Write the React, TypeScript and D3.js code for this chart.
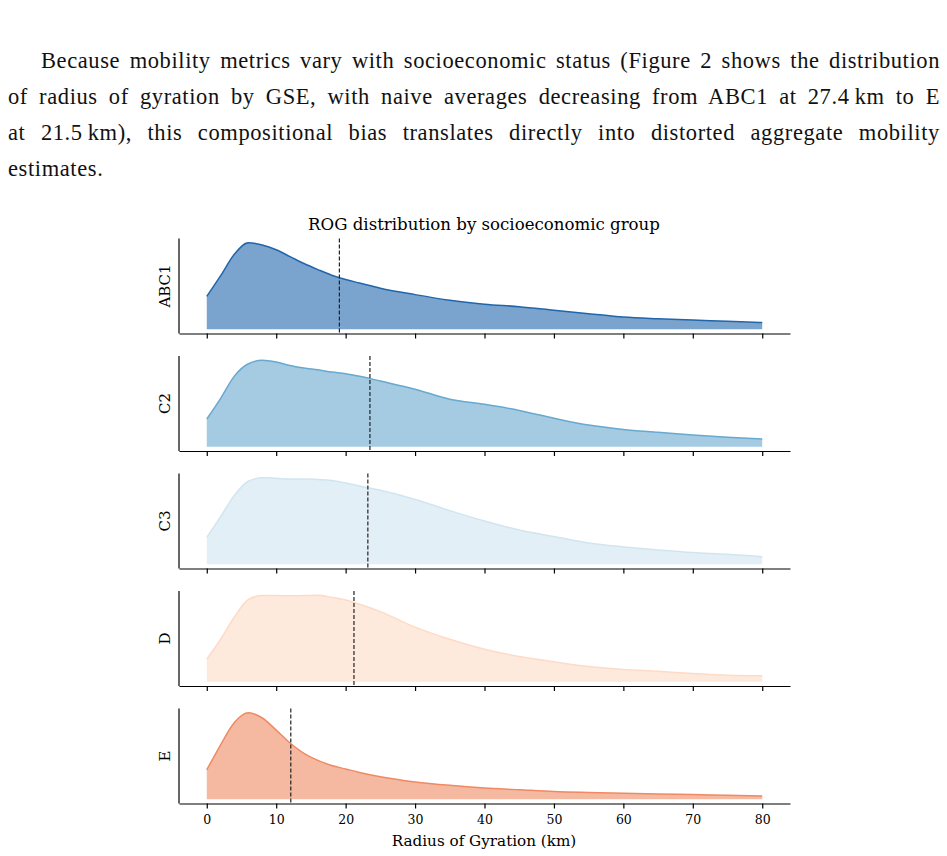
import * as d3 from "d3";
import {useEffect, useRef} from "react";

// radius of gyration grid (km) and relative density per group (peak = 1)
const km = [0, 2, 4, 6, 8, 10, 12, 14, 16, 18, 20, 22, 25, 30, 35, 40, 45, 50, 55, 60, 65, 70, 75, 80];

const groups = ["ABC1", "C2", "C3", "D", "E"];

const abc1 = [0.38, 0.62, 0.87, 1.0, 0.975, 0.92, 0.84, 0.76, 0.69, 0.625, 0.575, 0.535, 0.475, 0.40, 0.335, 0.29, 0.26, 0.22, 0.18, 0.14, 0.12, 0.105, 0.092, 0.077];
const c2 = [0.32, 0.56, 0.82, 0.96, 1.0, 0.98, 0.94, 0.91, 0.89, 0.865, 0.845, 0.815, 0.76, 0.665, 0.55, 0.49, 0.42, 0.33, 0.25, 0.2, 0.167, 0.135, 0.11, 0.09];
const c3 = [0.31, 0.55, 0.80, 0.96, 1.0, 0.995, 0.985, 0.985, 0.98, 0.97, 0.94, 0.905, 0.855, 0.75, 0.62, 0.50, 0.395, 0.32, 0.245, 0.2, 0.165, 0.135, 0.115, 0.087];
const d = [0.26, 0.49, 0.75, 0.95, 0.995, 0.995, 0.993, 0.995, 0.998, 0.975, 0.945, 0.895, 0.81, 0.63, 0.49, 0.375, 0.29, 0.23, 0.175, 0.14, 0.12, 0.095, 0.075, 0.068];
const e = [0.34, 0.63, 0.89, 1.0, 0.94, 0.80, 0.65, 0.53, 0.45, 0.39, 0.35, 0.31, 0.26, 0.2, 0.16, 0.13, 0.11, 0.09, 0.078, 0.068, 0.06, 0.053, 0.045, 0.038];

const series = [abc1, c2, c3, d, e];

// group means (dashed lines)
const means = [19.1, 23.5, 23.2, 21.2, 12.1];

const colors = ["#2166ac", "#67a9cf", "#d1e5f0", "#fddbc7", "#ef8a62"];

const xTicks = [0, 10, 20, 30, 40, 50, 60, 70, 80];

const paragraph = [
    "Because mobility metrics vary with socioeconomic status (Figure 2 shows the distribution",
    "of radius of gyration by GSE, with naive averages decreasing from ABC1 at 27.4\u2009km to E",
    "at 21.5\u2009km), this compositional bias translates directly into distorted aggregate mobility",
    "estimates.",
];

const App = () => {
    const ref = useRef<SVGSVGElement>(null);

    useEffect(() => {
        const svg = d3.select(ref.current);
        svg.selectAll("*").remove();

        // paragraph text, justified line by line
        const lineStarts = [41, 8, 8, 8];
        const baselines = [68, 104, 140, 176];
        const right = 940;
        paragraph.forEach((line, i) => {
            const t = svg.append("text")
                .attr("x", lineStarts[i])
                .attr("y", baselines[i])
                .attr("font-family", "Liberation Serif")
                .attr("font-size", 22.5)
                .attr("letter-spacing", 0.6)
                .attr("fill", "#111")
                .text(line);
            if (i < paragraph.length - 1) {
                const len = (t.node() as SVGTextElement).getBBox().width;
                const spaces = line.split(" ").length - 1;
                t.attr("word-spacing", (right - lineStarts[i] - len) / spaces);
            }
        });

        const font = "DejaVu Serif";
        const x = d3.scaleLinear().domain([-4, 84]).range([179, 790]);

        svg.append("text")
            .attr("x", 484)
            .attr("y", 230)
            .attr("text-anchor", "middle")
            .attr("font-family", font)
            .attr("font-size", 16.6)
            .text("ROG distribution by socioeconomic group");

        groups.forEach((g, i) => {
            const top = 238.5 + i * 117.5;
            const bottom = top + 95;
            const vals = series[i];
            const ymax = d3.max(vals) as number;
            const y = d3.scaleLinear().domain([-0.05 * ymax, 1.05 * ymax]).range([bottom, top]);
            const pts = km.map((k, j) => ({k, v: vals[j]}));

            const area = d3.area<{k: number, v: number}>()
                .x(p => x(p.k))
                .y0(y(0))
                .y1(p => y(p.v))
                .curve(d3.curveMonotoneX);
            const line = d3.line<{k: number, v: number}>()
                .x(p => x(p.k))
                .y(p => y(p.v))
                .curve(d3.curveMonotoneX);

            svg.append("path")
                .attr("d", area(pts))
                .attr("fill", colors[i])
                .attr("fill-opacity", 0.6);
            svg.append("path")
                .attr("d", line(pts))
                .attr("fill", "none")
                .attr("stroke", colors[i])
                .attr("stroke-width", 1.5);

            svg.append("line")
                .attr("x1", x(means[i])).attr("x2", x(means[i]))
                .attr("y1", top).attr("y2", bottom)
                .attr("stroke", "#222")
                .attr("stroke-width", 1.2)
                .attr("stroke-dasharray", "4,2");

            const axis = d3.axisBottom(x)
                .tickValues(xTicks)
                .tickSize(5)
                .tickSizeOuter(0)
                .tickPadding(7)
                .tickFormat(i === groups.length - 1 ? d3.format("d") : () => "");
            const ax = svg.append("g")
                .attr("transform", `translate(0,${bottom})`)
                .call(axis);
            ax.attr("font-family", font).attr("font-size", 12.5);
            ax.select(".domain").attr("stroke", "#000").attr("stroke-width", 1.2);
            ax.selectAll(".tick line").attr("stroke", "#000").attr("stroke-width", 1.2);
            ax.selectAll(".tick text").attr("fill", "#000");

            // left spine
            svg.append("line")
                .attr("x1", 179).attr("x2", 179)
                .attr("y1", top).attr("y2", bottom)
                .attr("stroke", "#000")
                .attr("stroke-width", 1.2);

            svg.append("text")
                .attr("transform", `translate(170,${(top + bottom) / 2}) rotate(-90)`)
                .attr("text-anchor", "middle")
                .attr("font-family", font)
                .attr("font-size", 15)
                .text(g);
        });

        svg.append("text")
            .attr("x", 484)
            .attr("y", 846)
            .attr("text-anchor", "middle")
            .attr("font-family", font)
            .attr("font-size", 15.2)
            .text("Radius of Gyration (km)");
    }, []);

    return (
        <svg ref={ref} width={947} height={856}
             style={{position: "absolute", top: 0, left: 0, background: "#fff"}}/>
    );
};

export default App;
